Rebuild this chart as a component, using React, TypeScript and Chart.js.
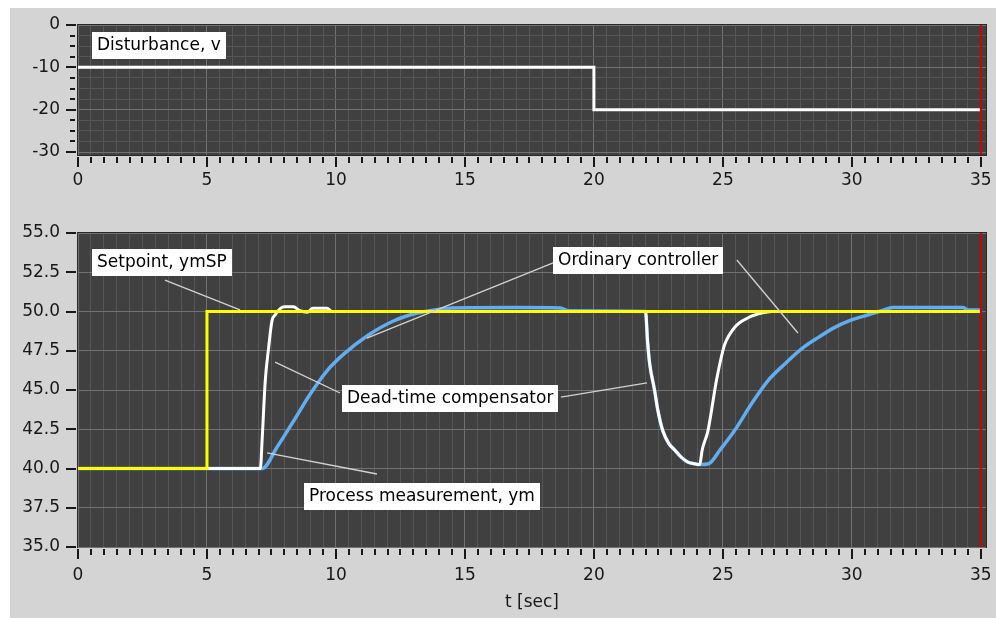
import React, { useEffect, useRef } from 'react';
import { Chart, registerables } from 'chart.js';

Chart.register(...registerables);

// ---------- data ----------
const disturbanceT = [0, 20, 20, 35];
const disturbanceV = [-10, -10, -20, -20];

const setpointT = [0, 5, 5, 35];
const setpointV = [40, 40, 50, 50];

// Dead-time compensator (process measurement)
const dtcT = [0, 7.07, 7.14, 7.26, 7.39, 7.52, 7.65, 7.85, 8.0, 8.35, 8.6, 8.9, 9.1, 9.65, 9.85, 22.0, 22.08, 22.16, 22.35, 22.48, 22.67, 22.9, 23.12, 23.4, 23.65, 23.9, 24.1, 24.2, 24.42, 24.75, 24.94, 25.07, 25.46, 25.98, 26.5, 26.9, 35];
const dtcV = [40, 40, 41.9, 45.6, 47.7, 49.4, 49.8, 50.2, 50.3, 50.3, 50.05, 49.95, 50.2, 50.2, 50.0, 50.0, 48.1, 46.7, 45.0, 43.7, 42.4, 41.6, 41.2, 40.7, 40.4, 40.3, 40.25, 41.2, 42.4, 45.6, 47.1, 47.9, 49.0, 49.6, 49.9, 50.0, 50.0];

// Ordinary controller
const ordT = [0, 7.14, 7.72, 8.37, 9.01, 9.66, 10.31, 11.22, 12.25, 13.16, 13.8, 14.5, 17.0, 18.7, 19.0, 22.0, 22.08, 22.16, 22.35, 22.48, 22.67, 22.9, 23.12, 23.4, 23.65, 23.9, 24.1, 24.45, 24.88, 25.46, 26.11, 26.75, 27.4, 28.05, 28.7, 29.34, 29.99, 30.64, 31.16, 31.6, 34.3, 34.5, 35];
const ordV = [40, 40, 41.37, 43.06, 44.76, 46.24, 47.3, 48.46, 49.41, 49.9, 50.09, 50.22, 50.25, 50.22, 50.05, 50.0, 48.1, 46.7, 45.0, 43.7, 42.4, 41.6, 41.2, 40.7, 40.4, 40.3, 40.25, 40.3, 41.16, 42.43, 44.12, 45.6, 46.66, 47.62, 48.35, 48.99, 49.46, 49.79, 50.05, 50.25, 50.25, 50.1, 50.1];

const cursorT = 35;

// axes
const xMin = 0;
const xMax = 35.2;
const xTicks = Array.from({ length: 71 }, (_, i) => i * 0.5);
const xLabelEvery = 5;

const topYMin = -30.7;
const topYMax = 0;
const topYTicks = [0, -2.5, -5, -7.5, -10, -12.5, -15, -17.5, -20, -22.5, -25, -27.5, -30];
const topYLabelEvery = 10;

const botYMin = 35;
const botYMax = 55;
const botYTicks = [35, 37.5, 40, 42.5, 45, 47.5, 50, 52.5, 55];
const botYLabelEvery = 2.5;

// annotations (data coordinates of box top-left, leader lines [x1,y1,x2,y2])
const topLabels = [
  { text: 'Disturbance, v', x: 0.54, y: -1.67, leaders: [] as number[][] },
];
const bottomLabels = [
  { text: 'Setpoint, ymSP', x: 0.54, y: 53.98, leaders: [[3.37, 52.0, 6.28, 50.1]] },
  { text: 'Ordinary controller', x: 18.41, y: 54.11, leaders: [[25.54, 53.28, 27.91, 48.63], [18.49, 53.15, 11.2, 48.31]] },
  { text: 'Dead-time compensator', x: 10.22, y: 45.32, leaders: [[7.64, 46.78, 10.16, 44.81], [18.72, 44.55, 22.06, 45.45]] },
  { text: 'Process measurement, ym', x: 8.76, y: 39.08, leaders: [[7.33, 40.99, 11.59, 39.65]] },
];

// ---------- styles ----------
const FONT = '"DejaVu Sans", Verdana, sans-serif';
const FONT_SIZE = 17;
const PAGE_GRAY = 'rgb(212,212,212)';
const PLOT_BG = 'rgb(64,64,64)';
const FRAME = 'rgb(40,40,40)';
const GRID_MINOR = 'rgb(86,86,86)';
const GRID_MAJOR = 'rgb(114,114,114)';
const TEXT = 'rgb(24,24,24)';
const YELLOW = '#ffff00';
const WHITE = '#ffffff';
const BLUE = 'rgb(98,172,240)';
const RED = 'rgb(210,0,0)';
const LEADER = 'rgb(210,210,210)';

const isMult = (v: number, m: number) => Math.abs(v / m - Math.round(v / m)) < 1e-6;
const pts = (t: number[], v: number[]) => t.map((x, i) => ({ x, y: v[i] }));

type Lab = { text: string; x: number; y: number; leaders: number[][] };

function makePanelPlugin(yTicks: number[], yMajorEvery: number, labels: Lab[]) {
  return {
    id: 'panel',
    beforeDraw(chart: any) {
      const { ctx, chartArea: a } = chart;
      ctx.save();
      ctx.fillStyle = FRAME;
      ctx.fillRect(a.left - 1, a.top - 1, a.right - a.left + 2, a.bottom - a.top + 2);
      ctx.fillStyle = PLOT_BG;
      ctx.fillRect(a.left, a.top, a.right - a.left, a.bottom - a.top);
      ctx.restore();
    },
    afterDatasetsDraw(chart: any) {
      const { ctx } = chart;
      const xs = chart.scales.x;
      const ys = chart.scales.y;
      ctx.save();
      ctx.font = `${FONT_SIZE}px ${FONT}`;
      for (const lab of labels) {
        ctx.strokeStyle = LEADER;
        ctx.lineWidth = 1.3;
        for (const l of lab.leaders) {
          ctx.beginPath();
          ctx.moveTo(xs.getPixelForValue(l[0]), ys.getPixelForValue(l[1]));
          ctx.lineTo(xs.getPixelForValue(l[2]), ys.getPixelForValue(l[3]));
          ctx.stroke();
        }
        const bx = Math.round(xs.getPixelForValue(lab.x));
        const by = Math.round(ys.getPixelForValue(lab.y));
        const w = Math.round(ctx.measureText(lab.text).width + 10);
        ctx.fillStyle = '#ffffff';
        ctx.fillRect(bx, by, w, 27);
        ctx.fillStyle = '#000000';
        ctx.textBaseline = 'middle';
        ctx.textAlign = 'left';
        ctx.fillText(lab.text, bx + 5, by + 14);
      }
      ctx.restore();
    },
    afterDraw(chart: any) {
      const { ctx, chartArea: a } = chart;
      const xs = chart.scales.x;
      const ys = chart.scales.y;
      ctx.save();
      ctx.fillStyle = TEXT;
      for (const v of xTicks) {
        const px = Math.round(xs.getPixelForValue(v));
        const major = isMult(v, xLabelEvery);
        ctx.fillRect(px - 1, a.bottom + 2, 2, major ? 10 : 6);
      }
      for (const v of yTicks) {
        const py = Math.round(ys.getPixelForValue(v));
        const major = isMult(v, yMajorEvery);
        if (major) ctx.fillRect(a.left - 12, py - 1, 10, 2);
        else ctx.fillRect(a.left - 8, py - 1, 5, 2);
      }
      ctx.restore();
    },
  };
}

function xScale(labelPad: number, withTitle: boolean, height: number) {
  return {
    type: 'linear',
    min: xMin,
    max: xMax,
    afterBuildTicks: (s: any) => { s.ticks = xTicks.map((value) => ({ value })); },
    afterFit: (s: any) => {
      s.height = height;
      s.paddingLeft = 0;
      s.paddingRight = 0;
    },
    border: { display: false },
    grid: {
      drawTicks: false,
      lineWidth: 1,
      color: (c: any) => (c.tick && isMult(c.tick.value, xLabelEvery) ? GRID_MAJOR : GRID_MINOR),
    },
    ticks: {
      autoSkip: false,
      maxRotation: 0,
      minRotation: 0,
      padding: labelPad,
      color: TEXT,
      font: { family: FONT, size: FONT_SIZE },
      callback: (v: any) => (isMult(Number(v), xLabelEvery) ? String(Math.round(Number(v))) : ''),
    },
    title: withTitle
      ? { display: true, text: 't [sec]', color: TEXT, font: { family: FONT, size: FONT_SIZE }, padding: { top: 0, bottom: 5 } }
      : { display: false },
  };
}

function yScale(min: number, max: number, ticks: number[], labelEvery: number, fmt: (v: number) => string) {
  return {
    type: 'linear',
    min,
    max,
    afterBuildTicks: (s: any) => { s.ticks = ticks.map((value) => ({ value })); },
    afterFit: (s: any) => {
      s.width = 78;
      s.paddingTop = 0;
      s.paddingBottom = 0;
    },
    border: { display: false },
    grid: {
      drawTicks: false,
      lineWidth: 1,
      color: (c: any) => (c.tick && isMult(c.tick.value, labelEvery) ? GRID_MAJOR : GRID_MINOR),
    },
    ticks: {
      autoSkip: false,
      padding: 18,
      color: TEXT,
      font: { family: FONT, size: FONT_SIZE },
      callback: (v: any) => (isMult(Number(v), labelEvery) ? fmt(Number(v)) : ''),
    },
  };
}

const lineDs = (label: string, data: any[], color: string, width: number, mono = false) => ({
  label,
  data,
  borderColor: color,
  backgroundColor: color,
  borderWidth: width,
  pointRadius: 0,
  fill: false,
  tension: 0,
  cubicInterpolationMode: mono ? 'monotone' : 'default',
});

function topConfig(): any {
  return {
    type: 'line',
    data: {
      datasets: [
        lineDs('cursor', [{ x: cursorT, y: topYMin }, { x: cursorT, y: topYMax }], RED, 2),
        lineDs('Disturbance, v', pts(disturbanceT, disturbanceV), WHITE, 3),
      ],
    },
    options: {
      responsive: false,
      animation: false,
      devicePixelRatio: 1,
      layout: { padding: { top: 25, right: 10, left: 0, bottom: 0 } },
      plugins: { legend: { display: false }, tooltip: { enabled: false } },
      scales: {
        x: xScale(15, false, 45),
        y: yScale(topYMin, topYMax, topYTicks, topYLabelEvery, (v) => String(Math.round(v))),
      },
    },
    plugins: [makePanelPlugin(topYTicks, topYLabelEvery, topLabels)],
  };
}

function bottomConfig(): any {
  return {
    type: 'line',
    data: {
      datasets: [
        lineDs('cursor', [{ x: cursorT, y: botYMin }, { x: cursorT, y: botYMax }], RED, 2),
        lineDs('Setpoint, ymSP', pts(setpointT, setpointV), YELLOW, 3),
        lineDs('Dead-time compensator', pts(dtcT, dtcV), WHITE, 3, true),
        lineDs('Ordinary controller', pts(ordT, ordV), BLUE, 3.5, true),
      ],
    },
    options: {
      responsive: false,
      animation: false,
      devicePixelRatio: 1,
      layout: { padding: { top: 33, right: 10, left: 0, bottom: 0 } },
      plugins: { legend: { display: false }, tooltip: { enabled: false } },
      scales: {
        x: xScale(18, true, 71),
        y: yScale(botYMin, botYMax, botYTicks, botYLabelEvery, (v) => v.toFixed(1)),
      },
    },
    plugins: [makePanelPlugin(botYTicks, botYLabelEvery, bottomLabels)],
  };
}

export default function App() {
  const topRef = useRef<HTMLCanvasElement>(null);
  const botRef = useRef<HTMLCanvasElement>(null);
  useEffect(() => {
    const c1 = new Chart(topRef.current as HTMLCanvasElement, topConfig());
    const c2 = new Chart(botRef.current as HTMLCanvasElement, bottomConfig());
    return () => {
      c1.destroy();
      c2.destroy();
    };
  }, []);
  return (
    <div style={{ position: 'fixed', left: 0, top: 0, width: 996, height: 618, background: '#ffffff', overflow: 'hidden' }}>
      <div style={{ position: 'absolute', left: 10, top: 8, width: 986, height: 610, background: PAGE_GRAY }} />
      <canvas ref={topRef} width={996} height={200} style={{ position: 'absolute', left: 0, top: 0, width: 996, height: 200 }} />
      <canvas ref={botRef} width={996} height={418} style={{ position: 'absolute', left: 0, top: 200, width: 996, height: 418 }} />
    </div>
  );
}
